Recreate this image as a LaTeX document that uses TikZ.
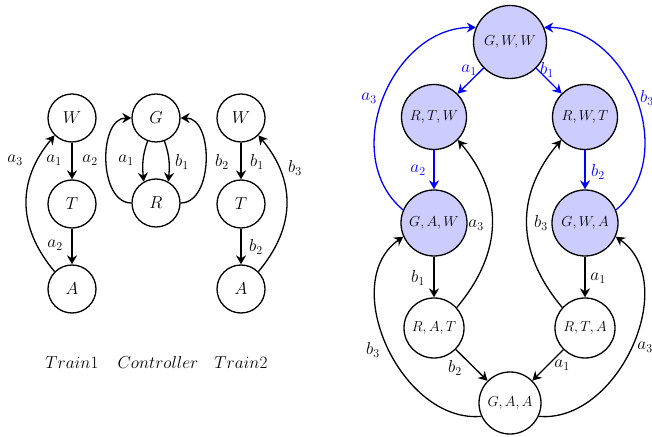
\documentclass[tikz,border=0pt]{standalone}
\usetikzlibrary{arrows.meta}
\definecolor{nodefill}{RGB}{204,204,255}
\begin{document}
\begin{tikzpicture}[x=1pt,y=1pt,
  sm/.style={circle,draw,line width=1.3pt,inner sep=0pt,minimum size=48pt,font=\fontsize{16}{16}\selectfont},
  rs/.style={circle,draw,line width=1.3pt,inner sep=0pt,font=\fontsize{14.5}{14.5}\selectfont},
  hl/.style={fill=nodefill},
  arr/.style={line width=1.3pt,-{Stealth[length=9pt,width=10pt,inset=3pt]}},
  barr/.style={arr,blue},
  lbl/.style={font=\fontsize{17}{17}\selectfont,inner sep=0pt},
  blbl/.style={lbl,text=blue},
  captxt/.style={font=\fontsize{16.5}{16.5}\selectfont,inner sep=0pt}]
\useasboundingbox (0,0) rectangle (652,436);
% left graphs
\node[sm] (W1) at (72,318) {$W$};
\node[sm] (T1) at (72,232) {$T$};
\node[sm] (A1) at (72,147) {$A$};
\node[sm] (G) at (156,318) {$G$};
\node[sm] (R) at (156,233) {$R$};
\node[sm] (W2) at (241,318) {$W$};
\node[sm] (T2) at (241,232) {$T$};
\node[sm] (A2) at (241,147) {$A$};
\node[captxt] (c1) at (72,73) {$Train1$};
\node[captxt] (c2) at (158,73) {$Controller$};
\node[captxt] (c3) at (241,73) {$Train2$};
\draw[arr] (W1) -- (T1);
\draw[arr] (T1) -- (A1);
\draw[arr] (A1.135) to[out=130,in=230,looseness=1.1] (W1.225);
\draw[arr] (G.250) to[out=250,in=95] (R.120);
\draw[arr] (G.290) to[out=290,in=85] (R.60);
\draw[arr] (R.west) to[out=180,in=180] (G.west);
\draw[arr] (R.east) to[out=0,in=0] (G.east);
\draw[arr] (W2) -- (T2);
\draw[arr] (T2) -- (A2);
\draw[arr] (A2.45) to[out=50,in=-50,looseness=1.1] (W2.-45);
\node[lbl] (l1) at (15,276) {$a_3$};
\node[lbl] (l2) at (54,276) {$a_1$};
\node[lbl] (l3) at (90,276) {$a_2$};
\node[lbl] (l4) at (55,191) {$a_2$};
\node[lbl] (l5) at (126,276) {$a_1$};
\node[lbl] (l6) at (182,274) {$b_1$};
\node[lbl] (l7) at (222,274) {$b_2$};
\node[lbl] (l8) at (257,274) {$b_1$};
\node[lbl] (l9) at (256,189) {$b_2$};
\node[lbl] (l10) at (295,268) {$b_3$};
% right graph
\node[rs,hl,minimum size=73pt] (GWW) at (510,394) {$G,W,W$};
\node[rs,hl,minimum size=65pt] (RTW) at (434,319) {$R,T,W$};
\node[rs,hl,minimum size=65pt] (RWT) at (585,319) {$R,W,T$};
\node[rs,hl,minimum size=66pt] (GAW) at (434,213) {$G,A,W$};
\node[rs,hl,minimum size=66pt] (GWA) at (585,213) {$G,W,A$};
\node[rs,minimum size=60pt] (RAT) at (434,108) {$R,A,T$};
\node[rs,minimum size=60pt] (RTA) at (585,108) {$R,T,A$};
\node[rs,minimum size=62pt] (GAA) at (510,33) {$G,A,A$};
\draw[barr] (GWW) -- (RTW);
\draw[barr] (GWW) -- (RWT);
\draw[barr] (RTW) -- (GAW);
\draw[barr] (RWT) -- (GWA);
\draw[barr] (GAW.157) to[out=140,in=180,looseness=1.1] (GWW.157);
\draw[barr] (GWA.23) to[out=40,in=0,looseness=1.1] (GWW.23);
\draw[arr] (GAW) -- (RAT);
\draw[arr] (GWA) -- (RTA);
\draw[arr] (RAT.42) to[out=50,in=-50,looseness=1.1] (RTW.-44);
\draw[arr] (RTA.138) to[out=130,in=230,looseness=1.1] (RWT.224);
\draw[arr] (RAT) -- (GAA);
\draw[arr] (RTA) -- (GAA);
\draw[arr] (GAA.205) to[out=185,in=215,looseness=1.05] (GAW.204);
\draw[arr] (GAA.-25) to[out=-5,in=-35,looseness=1.05] (GWA.-24);
\node[blbl] (r1) at (469,366) {$a_1$};
\node[blbl] (r2) at (547,366) {$b_1$};
\node[blbl] (r3) at (369,338) {$a_3$};
\node[blbl] (r4) at (647,338) {$b_3$};
\node[blbl] (r5) at (418,266) {$a_2$};
\node[blbl] (r6) at (598,264) {$b_2$};
\node[lbl] (r7) at (476,211) {$a_3$};
\node[lbl] (r8) at (541,213) {$b_3$};
\node[lbl] (r9) at (418,158) {$b_1$};
\node[lbl] (r10) at (598,158) {$a_1$};
\node[lbl] (r11) at (373,86) {$b_3$};
\node[lbl] (r12) at (455,68) {$b_2$};
\node[lbl] (r13) at (562,71) {$a_1$};
\node[lbl] (r14) at (645,89) {$a_3$};
\end{tikzpicture}
\end{document}
